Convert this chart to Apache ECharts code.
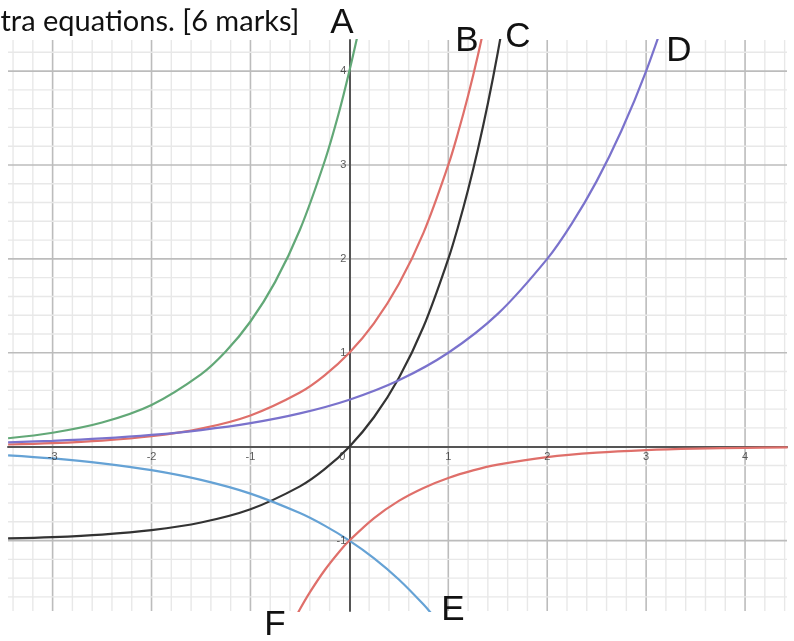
<!DOCTYPE html>
<html>
<head>
<meta charset="utf-8">
<script src="https://cdn.jsdelivr.net/npm/echarts@6/dist/echarts.min.js"></script>
<style>
  html, body { margin: 0; padding: 0; background: #fff; }
  #chart { width: 794px; height: 641px; }
</style>
</head>
<body>
<div id="chart"></div>
<script>
// Axis window
const xMin = -3.451, xMax = 4.424;
const yMin = -1.75, yMax = 4.331;

// Labelled ticks
const tickX = [-3, -2, -1, 1, 2, 3, 4];
const tickY = [-1, 1, 2, 3, 4];

// Curve A
const aX = [-3.45, -3, -2.5, -2, -1.5, -1.25, -1, -0.75, -0.5, -0.25, -0.1, 0, 0.1];
const aY = [0.09, 0.148, 0.257, 0.444, 0.77, 1.013, 1.333, 1.755, 2.31, 3.04, 3.58, 4, 4.46];
// Curve B
const bX = [-3.45, -3, -2.5, -2, -1.5, -1, -0.5, -0.25, 0, 0.25, 0.5, 0.75, 1, 1.1, 1.2, 1.3, 1.4];
const bY = [0.023, 0.037, 0.064, 0.111, 0.192, 0.333, 0.577, 0.76, 1, 1.316, 1.732, 2.28, 3, 3.348, 3.737, 4.171, 4.655];
// Curve C
const cX = [-3.45, -3, -2.5, -2, -1.5, -1, -0.5, -0.25, 0, 0.25, 0.5, 0.75, 1, 1.1, 1.2, 1.3, 1.4, 1.5, 1.6];
const cY = [-0.977, -0.963, -0.936, -0.889, -0.808, -0.667, -0.423, -0.24, 0, 0.316, 0.732, 1.28, 2, 2.348, 2.737, 3.171, 3.655, 4.196, 4.8];
// Curve D
const dX = [-3.45, -3, -2.5, -2, -1.5, -1, -0.5, 0, 0.5, 1, 1.5, 2, 2.25, 2.5, 2.75, 3, 3.25];
const dY = [0.046, 0.0625, 0.088, 0.125, 0.177, 0.25, 0.354, 0.5, 0.707, 1, 1.414, 2, 2.378, 2.828, 3.364, 4, 4.757];
// Curve E
const eX = [-3.45, -3, -2.5, -2, -1.5, -1, -0.5, -0.25, 0, 0.25, 0.5, 0.75, 0.9];
const eY = [-0.092, -0.125, -0.177, -0.25, -0.354, -0.5, -0.707, -0.841, -1, -1.189, -1.414, -1.682, -1.866];
// Curve F
const fX = [-0.6, -0.5, -0.4, -0.25, -0.1, 0, 0.25, 0.5, 0.75, 1, 1.25, 1.5, 2, 2.5, 3, 3.5, 4, 4.43];
const fY = [-1.933, -1.732, -1.552, -1.316, -1.116, -1, -0.76, -0.577, -0.439, -0.333, -0.253, -0.192, -0.111, -0.064, -0.037, -0.021, -0.012, -0.008];

const pairs = (xs, ys) => xs.map((x, i) => [x, ys[i]]);

// Grid lines: every 0.2 units, heavier on whole numbers
const gridLines = [];
for (let k = Math.ceil(xMin * 5); k <= Math.floor(xMax * 5); k++) {
  if (k === 0) continue;
  gridLines.push([k / 5, 0, k % 5 === 0 ? 1 : 0]);
}
for (let k = Math.ceil(yMin * 5); k <= Math.floor(yMax * 5); k++) {
  if (k === 0) continue;
  gridLines.push([k / 5, 1, k % 5 === 0 ? 1 : 0]);
}

function curve(name, data, color) {
  return {
    name, type: 'line', data, showSymbol: false, symbol: 'none',
    smooth: 0.35, clip: true, z: 5,
    lineStyle: { color, width: 2.2 }, silent: true
  };
}

const tickFont = { fontSize: 11, color: '#333', fontFamily: 'Liberation Sans, Arial, sans-serif' };
const letterFont = '35px "Liberation Sans", Arial, sans-serif';

const chart = echarts.init(document.getElementById('chart'), null, { renderer: 'canvas' });
chart.setOption({
  animation: false,
  backgroundColor: '#ffffff',
  grid: { left: 8, right: 7, top: 40, bottom: 30, containLabel: false },
  xAxis: {
    type: 'value', min: xMin, max: xMax,
    axisLine: { onZero: true, lineStyle: { color: '#555', width: 2 } },
    axisTick: { show: false }, axisLabel: { show: false }, splitLine: { show: false }
  },
  yAxis: {
    type: 'value', min: yMin, max: yMax,
    axisLine: { onZero: true, lineStyle: { color: '#555', width: 2 } },
    axisTick: { show: false }, axisLabel: { show: false }, splitLine: { show: false }
  },
  series: [
    {
      type: 'custom', silent: true, z: -1, clip: true,
      data: gridLines,
      renderItem: function (params, api) {
        const v = api.value(0), dir = api.value(1), major = api.value(2);
        let p1, p2;
        if (dir === 0) { p1 = api.coord([v, yMin]); p2 = api.coord([v, yMax]); }
        else { p1 = api.coord([xMin, v]); p2 = api.coord([xMax, v]); }
        return {
          type: 'line',
          shape: { x1: p1[0], y1: p1[1], x2: p2[0], y2: p2[1] },
          style: { stroke: major ? '#bcbcbc' : '#e8e8e8', lineWidth: major ? 1.6 : 1.4 }
        };
      }
    },
    curve('A', pairs(aX, aY), '#62a877'),
    curve('B', pairs(bX, bY), '#df6f6a'),
    curve('C', pairs(cX, cY), '#333333'),
    curve('D', pairs(dX, dY), '#7a72cc'),
    curve('E', pairs(eX, eY), '#65a2d5'),
    curve('F', pairs(fX, fY), '#df6f6a'),
    {
      type: 'scatter', silent: true, symbolSize: 0, z: 6,
      data: tickX.map(v => [v, 0]),
      label: { show: true, position: 'bottom', distance: 5, formatter: p => String(p.value[0]), ...tickFont }
    },
    {
      type: 'scatter', silent: true, symbolSize: 0, z: 6,
      data: tickY.map(v => [0, v]),
      label: { show: true, position: 'left', distance: 3, formatter: p => String(p.value[1]), ...tickFont }
    },
    {
      type: 'scatter', silent: true, symbolSize: 0, z: 6,
      data: [[0, 0]],
      label: { show: true, position: 'bottom', offset: [-7, 0], distance: 5, formatter: '0', ...tickFont }
    }
  ],
  graphic: [
    { type: 'text', left: -14, top: 7, z: 10,
      style: { text: 'xtra equations. [6 marks]', font: '29px Lato, "Open Sans", sans-serif', fill: '#111' } },
    { type: 'text', x: 342, y: 23, z: 10, style: { text: 'A', font: letterFont, fill: '#111', textAlign: 'center', textVerticalAlign: 'middle' } },
    { type: 'text', x: 467, y: 41, z: 10, style: { text: 'B', font: letterFont, fill: '#111', textAlign: 'center', textVerticalAlign: 'middle' } },
    { type: 'text', x: 518, y: 37, z: 10, style: { text: 'C', font: letterFont, fill: '#111', textAlign: 'center', textVerticalAlign: 'middle' } },
    { type: 'text', x: 679, y: 51, z: 10, style: { text: 'D', font: letterFont, fill: '#111', textAlign: 'center', textVerticalAlign: 'middle' } },
    { type: 'text', x: 453, y: 610, z: 10, style: { text: 'E', font: letterFont, fill: '#111', textAlign: 'center', textVerticalAlign: 'middle' } },
    { type: 'text', x: 275, y: 625, z: 10, style: { text: 'F', font: letterFont, fill: '#111', textAlign: 'center', textVerticalAlign: 'middle' } }
  ]
});
</script>
</body>
</html>
